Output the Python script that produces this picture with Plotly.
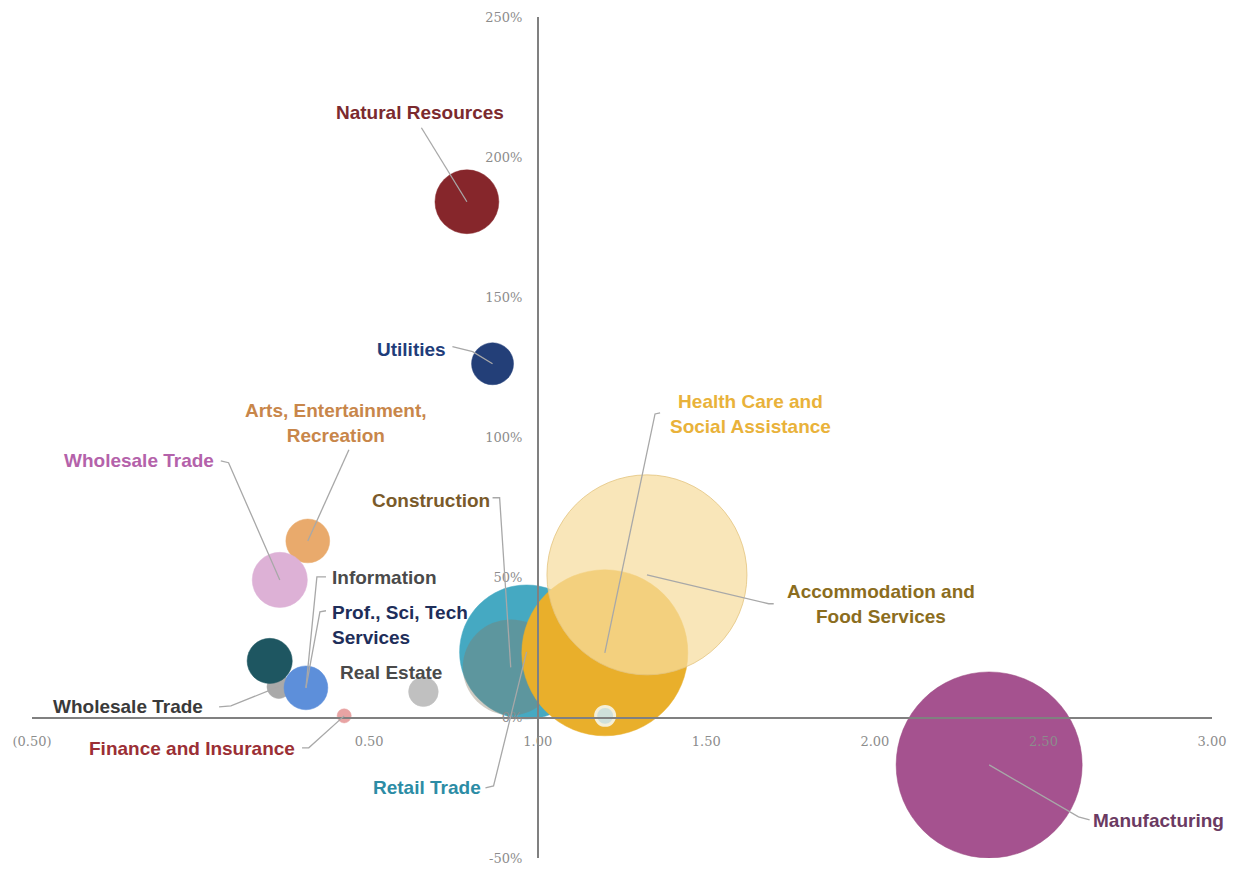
import plotly.graph_objects as go

# ---- data -------------------------------------------------------------
sectors = [
    "Natural Resources", "Utilities", "Arts, Entertainment, Recreation",
    "Wholesale Trade", "Wholesale Trade (other)", "Transportation and Warehousing",
    "Prof., Sci, Tech Services", "Real Estate", "Finance and Insurance",
    "Retail Trade", "Construction", "Health Care and Social Assistance",
    "Other Services", "Accommodation and Food Services", "Manufacturing",
]
location_quotient = [0.79, 0.866, 0.318, 0.235, 0.232, 0.205, 0.3125, 0.661, 0.426,
                     0.967, 0.92, 1.199, 1.20, 1.324, 2.339]
growth_pct = [184.1, 126.3, 63.1, 49.2, 11.1, 20.3, 10.7, 9.3, 0.7,
              23.5, 18.0, 23.2, 0.7, 51.0, -16.8]
employment = [102, 44, 48, 76, 14, 51, 48, 22, 5,
              449, 230, 689, 9, 1000, 865]

x_tick_vals = [-0.5, 0.5, 1.0, 1.5, 2.0, 2.5, 3.0]
x_tick_text = ["(0.50)", "0.50", "1.00", "1.50", "2.00", "2.50", "3.00"]
y_tick_vals = [-50, 0, 50, 100, 150, 200, 250]
y_tick_text = ["-50%", "0%", "50%", "100%", "150%", "200%", "250%"]

# ---- styling ------------------------------------------------------------
fill = [
    "#86262B", "#233F78", "#E9AA6C", "#DDB1D6", "#A9A9A9", "#1E5661",
    "#5D8FDA", "#C0C0C0", "#E8A3A3", "#45A9C2", "rgba(135,122,100,0.38)",
    "#E9AF2B", "#CFE0DA", "rgba(247,221,158,0.72)", "#A5528F",
]
edge = [
    "#86262B", "#233F78", "#E9AA6C", "#DDB1D6", "#A9A9A9", "#1E5661",
    "#5D8FDA", "#C0C0C0", "#E8A3A3", "#45A9C2", "rgba(135,122,100,0.0)",
    "#E9AF2B", "#F4EFD8", "rgba(228,196,128,0.8)", "#99487F",
]
edge_w = [0.5] * 12 + [3, 1, 0.5]

MAX_DIAMETER = 200
sizeref = 2.0 * max(employment) / MAX_DIAMETER ** 2

fig = go.Figure(go.Scatter(
    x=location_quotient, y=growth_pct, mode="markers", text=sectors,
    hovertemplate="%{text}<br>%{x:.2f}<br>%{y:.1f}%<extra></extra>",
    marker=dict(size=employment, sizemode="area", sizeref=sizeref,
                color=fill, opacity=1, line=dict(color=edge, width=edge_w)),
    showlegend=False,
))

# ---- labels and leader lines -------------------------------------------
LABEL_FONT = "Liberation Sans, Arial, sans-serif"
labels = [
    # text, x, y, colour, anchor, leader points, bubble index
    ("Natural Resources", 0.652, 215.8, "#7B2A2E", "center", [(0.655, 210.5)], 0),
    ("Utilities", 0.625, 131.3, "#1F3D7A", "center", [(0.747, 132.4), (0.807, 130.6)], 1),
    ("Arts, Entertainment,<br>Recreation", 0.402, 105.2, "#C8864A", "center", [(0.440, 95.6)], 2),
    ("Wholesale Trade", -0.182, 91.7, "#B462AA", "center", [(0.060, 91.7), (0.083, 91.0)], 3),
    ("Construction", 0.682, 77.4, "#7A5A2A", "center", [(0.866, 78.5), (0.887, 78.5)], 10),
    ("Health Care and<br>Social Assistance", 1.631, 108.4, "#E9B23A", "center",
     [(1.363, 108.8), (1.348, 108.4)], 11),
    ("Information", 0.545, 49.9, "#4A4A4A", "center", [(0.372, 50.3), (0.345, 50.3)], 6),
    ("Prof., Sci, Tech<br>Services", 0.384, 33.2, "#1E2E5A", "left", [(0.372, 38.2), (0.354, 37.8)], 6),
    ("Accommodation and<br>Food Services", 2.018, 40.7, "#8B6D1E", "center",
     [(1.700, 40.7), (1.685, 40.7)], 13),
    ("Real Estate", 0.565, 16.1, "#4A4A4A", "center", [], None),
    ("Wholesale Trade", -0.214, 3.9, "#3A3A3A", "center", [(0.055, 3.9), (0.090, 4.3)], 4),
    ("Finance and Insurance", -0.024, -11.1, "#9B2F35", "center", [(0.301, -10.7), (0.321, -10.7)], 8),
    ("Retail Trade", 0.673, -25.0, "#2C8CA5", "center", [(0.845, -25.0), (0.869, -24.3)], 9),
    ("Manufacturing", 2.842, -36.7, "#6B3A62", "center", [(2.637, -36.4), (2.604, -35.3)], 14),
]

for text, lx, ly, color, anchor, pts, idx in labels:
    fig.add_annotation(
        x=lx, y=ly, xref="x", yref="y", text=text, showarrow=False,
        xanchor=anchor, yanchor="middle", align=anchor,
        font=dict(family=LABEL_FONT, size=19, color=color, weight="bold"),
    )
    if idx is not None and pts:
        path_pts = pts + [(location_quotient[idx], growth_pct[idx])]
        path = "M " + " L ".join(f"{px},{py}" for px, py in path_pts)
        fig.add_shape(type="path", path=path, xref="x", yref="y",
                      line=dict(color="#A8A8A8", width=1.3), layer="above")

# ---- axes crossing at (1.00, 0%) ----------------------------------------
x_min, x_max = -0.5, 3.0
y_min, y_max = -50, 250
tick_font = dict(family="DejaVu Serif, serif", size=13, color="#8C8C8C")

fig.update_layout(
    width=1237, height=869,
    margin=dict(l=32, r=25, t=17, b=11, autoexpand=False),
    paper_bgcolor="white", plot_bgcolor="white",
    xaxis=dict(
        range=[x_min, x_max], anchor="free", automargin=False,
        position=(0 - y_min) / (y_max - y_min),
        showline=True, linecolor="#808080", linewidth=1.5,
        showgrid=False, zeroline=False, ticks="",
        tickvals=x_tick_vals, ticktext=x_tick_text, tickfont=tick_font,
        ticklabelstandoff=12,
    ),
    yaxis=dict(
        range=[y_min, y_max], anchor="free", automargin=False,
        position=(1.0 - x_min) / (x_max - x_min),
        showline=True, linecolor="#808080", linewidth=1.5,
        showgrid=False, zeroline=False, ticks="",
        tickvals=y_tick_vals, ticktext=y_tick_text, tickfont=tick_font,
        ticklabelstandoff=12,
    ),
)

fig.write_html("out.html")
